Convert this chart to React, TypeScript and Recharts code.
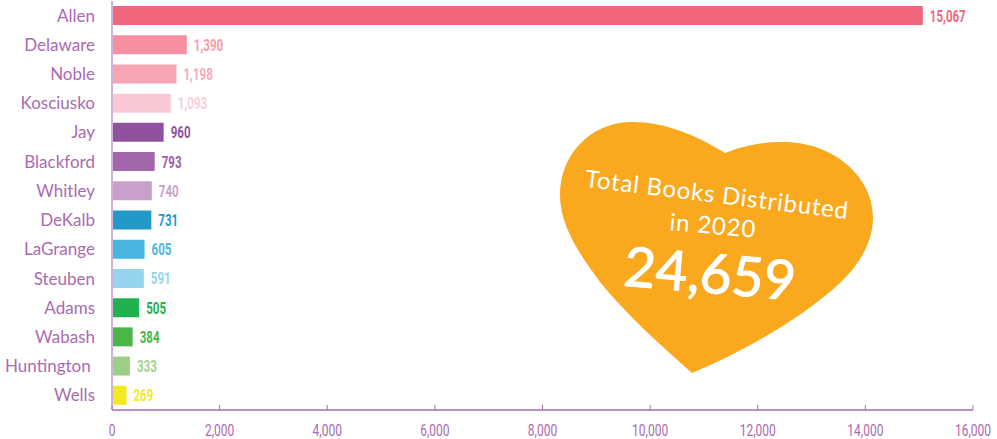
import { Bar, BarChart, Cell, LabelList, XAxis, YAxis } from "recharts";

const counties = ["Allen", "Delaware", "Noble", "Kosciusko", "Jay", "Blackford", "Whitley", "DeKalb", "LaGrange", "Steuben", "Adams", "Wabash", "Huntington ", "Wells"];
const books = [15067, 1390, 1198, 1093, 960, 793, 740, 731, 605, 591, 505, 384, 333, 269];
const barColors = ["#ef667d", "#f68fa0", "#f7a5b4", "#f9c8d2", "#90519e", "#a266aa", "#c9a0cb", "#2399c7", "#49b6e2", "#94d4ef", "#22b14f", "#49b74a", "#9ccf86", "#f2e91e"];
const labelColors = ["#ef667d", "#f99bab", "#f9a9b8", "#fbcdd7", "#90519e", "#9c5ea6", "#c9a0cb", "#2399c7", "#49b6e2", "#94d4ef", "#22b14f", "#49b74a", "#a3d48c", "#f2e91e"];
const xTicks = [0, 2000, 4000, 6000, 8000, 10000, 12000, 14000, 16000];

const data = counties.map((county, i) => ({ county, books: books[i] }));

const PURPLE = "#a96bb0";
const NARROW = "Roboto, sans-serif";

const CountyTick = ({ x, y, payload }: any) => (
  <text
    x={x - 17}
    y={y + 6}
    textAnchor="end"
    fontFamily="Lato"
    fontSize={17}
    fill={PURPLE}
    style={{ whiteSpace: "pre" }}
  >
    {payload.value}
  </text>
);

const ValueTick = ({ x, y, payload }: any) => (
  <g>
    <line x1={x} x2={x} y1={y - 5} y2={y} stroke={PURPLE} strokeWidth={1} />
    <text
      transform={`translate(${x} ${y + 26}) scale(0.75 1)`}
      textAnchor="middle"
      fontFamily={NARROW}
      fontSize={16}
      fill={PURPLE}
    >
      {payload.value.toLocaleString("en-US")}
    </text>
  </g>
);

const BarValue = ({ x, y, width, height, value, index }: any) => (
  <text
    transform={`translate(${x + width + 7} ${y + height / 2 + 6}) scale(0.68 1)`}
    fontFamily={NARROW}
    fontSize={17}
    fontWeight={700}
    fill={labelColors[index]}
  >
    {value.toLocaleString("en-US")}
  </text>
);

const Heart = () => (
  <svg width={997} height={439} style={{ position: "absolute", left: 0, top: 0 }}>
    <path
      d="M725 153 C693 133 660 121 630 122 C590 123 560 155 560 195 C560 225 578 252 600 282 C625 313 660 345 692 373 C740 353 800 320 840 283 C862 262 873 240 873 217 C873 175 830 140 780 142 C760 142 740 147 725 153 Z"
      fill="#faa91e"
    />
    <g fill="#fff" fontFamily="Lato" textAnchor="middle">
      <text x={717} y={203} fontSize={24} letterSpacing={0.8} transform="rotate(7 717 195)">Total Books Distributed</text>
      <text x={713} y={234} fontSize={24} letterSpacing={0.8} transform="rotate(5 713 225)">in 2020</text>
      <text x={710} y={293} fontSize={55} stroke="#fff" strokeWidth={1} transform="rotate(5 710 273)">24,659</text>
    </g>
  </svg>
);

export default function App() {
  return (
    <div style={{ position: "absolute", left: 0, top: 0, width: 997, height: 439 }}>
      <BarChart
        width={997}
        height={439}
        data={data}
        layout="vertical"
        margin={{ top: 1, right: 24, bottom: 0, left: 0 }}
      >
        <XAxis
          type="number"
          domain={[0, 16000]}
          ticks={xTicks}
          interval={0}
          height={29}
          tickSize={0}
          tickMargin={0}
          tick={<ValueTick />}
          axisLine={{ stroke: PURPLE, strokeWidth: 1.5 }}
          tickLine={false}
        />
        <YAxis
          type="category"
          dataKey="county"
          width={112}
          interval={0}
          tickSize={0}
          tickMargin={0}
          tick={<CountyTick />}
          axisLine={{ stroke: "#cfb3da", strokeWidth: 2 }}
          tickLine={false}
        />
        <Bar dataKey="books" barSize={19} isAnimationActive={false}>
          {data.map((d, i) => (
            <Cell key={d.county} fill={barColors[i]} />
          ))}
          <LabelList dataKey="books" content={<BarValue />} />
        </Bar>
      </BarChart>
      <Heart />
    </div>
  );
}
